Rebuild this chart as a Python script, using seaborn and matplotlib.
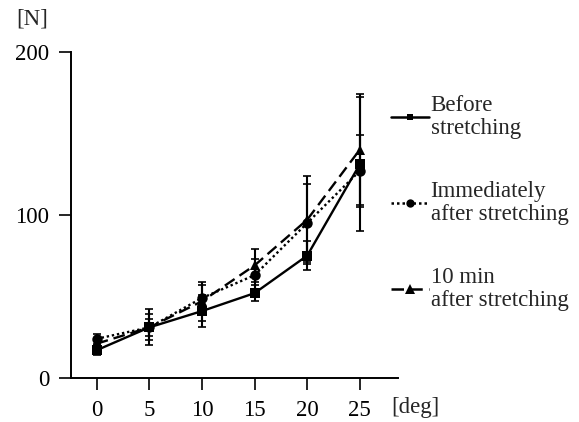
import matplotlib
matplotlib.use("Agg")
import matplotlib.pyplot as plt
import seaborn as sns
import pandas as pd
from matplotlib.lines import Line2D

angles = [0, 5, 10, 15, 20, 25]
before = [17, 31, 41, 52, 75, 131]
before_err = [3, 5, 10, 5, 9, 41]
immediately = [24, 31, 49, 63, 95, 127]
immediately_err = [3, 8, 8, 10, 24, 22]
ten_min = [21, 31, 47, 69, 97, 140]
ten_min_err = [3, 11, 12, 10, 27, 34]

labels = ["Before\nstretching", "Immediately\nafter stretching", "10 min\nafter stretching"]
series = [before, immediately, ten_min]
errors = [before_err, immediately_err, ten_min_err]
markers = ["s", "o", "^"]
dashes = ["", (1, 1.2), (5, 2.5)]
msizes = [6, 7, 7.5]

FS = 16.5

sns.set_style("white")
plt.rcParams["font.family"] = ["Liberation Serif", "DejaVu Serif"]

rows = []
for lab, vals in zip(labels, series):
    for a, v in zip(angles, vals):
        rows.append({"angle": a, "force": v, "cond": lab})
df = pd.DataFrame(rows)

fig = plt.figure(figsize=(5.79, 4.22), dpi=100)
ax = fig.add_axes([0.1226, 0.1043, 0.5644, 0.7732])

for lab, vals, errs in zip(labels, series, errors):
    ax.errorbar(angles, vals, yerr=errs, fmt="none", ecolor="black",
                elinewidth=1.5, capsize=3, capthick=1.2, zorder=2)

sns.lineplot(data=df, x="angle", y="force", hue="cond", style="cond",
             palette=["black"] * 3, markers=dict(zip(labels, markers)),
             dashes=dict(zip(labels, dashes)), linewidth=1.7, markersize=7.5,
             markeredgewidth=0, ax=ax, legend=False, zorder=3)

ax.set_xlim(-2.43, 28.6)
ax.set_ylim(0, 200)
ax.set_xticks([0, 5, 10, 15, 20, 25])
ax.set_yticks([0, 100, 200])
ax.set_xlabel("")
ax.set_ylabel("")
for s in ["top", "right"]:
    ax.spines[s].set_visible(False)
for s in ["left", "bottom"]:
    ax.spines[s].set_linewidth(1.4)
    ax.spines[s].set_color("black")
ax.tick_params(axis="both", direction="out", length=8.5, width=1.2,
               colors="black", labelsize=FS, pad=7, left=True, bottom=True)

fig.text(16 / 579, 1 - 19 / 422, "[N]", fontsize=FS, va="center", ha="left")
fig.text(391 / 579, 1 - 407 / 422, "[deg]", fontsize=FS, va="center", ha="left")

handles = [Line2D([0], [0], color="black", linewidth=1.8, linestyle=(0, d) if d else "-",
                  marker=m, markersize=ms - 1, markeredgewidth=0)
           for d, m, ms in zip(dashes, markers, msizes)]
leg = ax.legend(handles, labels, loc="upper left", bbox_to_anchor=(391 / 579, 1 - 95 / 422),
                bbox_transform=fig.transFigure, frameon=False, fontsize=FS,
                handlelength=1.65, handletextpad=0.08, labelspacing=1.86,
                numpoints=1, borderaxespad=0, borderpad=0)
for t in leg.get_texts():
    t.set_linespacing(1.1)

fig.savefig("out.png", dpi=100)
